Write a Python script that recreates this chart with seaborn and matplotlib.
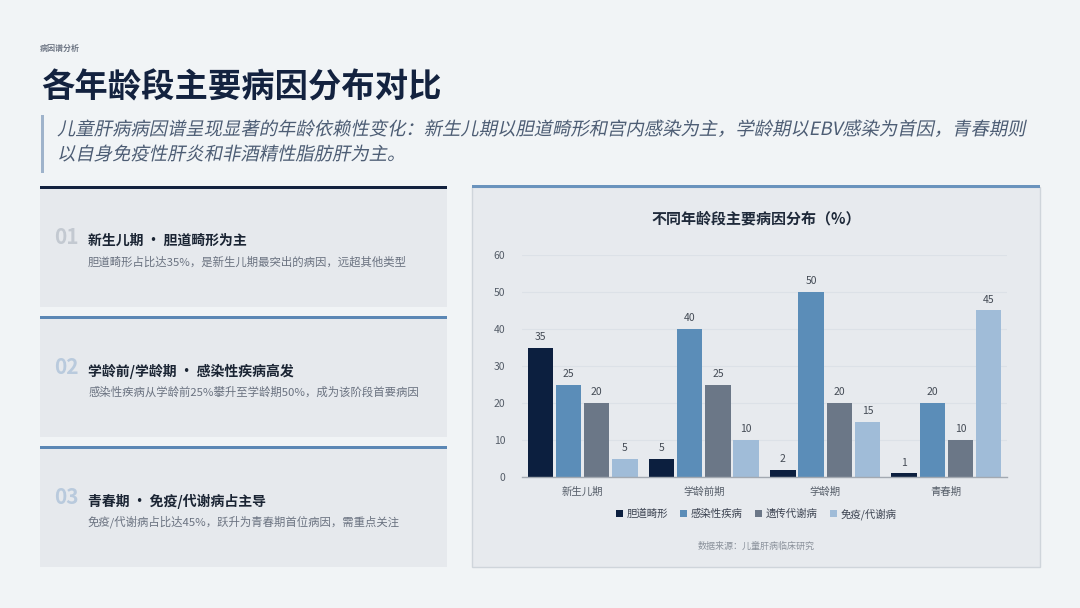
import pandas as pd
import matplotlib
matplotlib.use('Agg')
import matplotlib.pyplot as plt
import seaborn as sns
from matplotlib.patches import Rectangle, PathPatch
from matplotlib.textpath import TextPath
from matplotlib.font_manager import FontProperties
from matplotlib.transforms import Affine2D

# chart data
stages = ['新生儿期', '学龄前期', '学龄期', '青春期']
causes = ['胆道畸形', '感染性疾病', '遗传代谢病', '免疫/代谢病']
biliary = [35, 5, 2, 1]
infection = [25, 40, 50, 20]
genetic = [20, 25, 20, 10]
immune = [5, 10, 15, 45]
colors = ['#0c1f3f', '#5b8db8', '#6b7787', '#a0bcd8']

# text blocks
page_tag = '病因谱分析'
page_title = '各年龄段主要病因分布对比'
subtitle_lines = ['儿童肝病病因谱呈现显著的年龄依赖性变化：新生儿期以胆道畸形和宫内感染为主，学龄期以EBV感染为首因，青春期则',
                  '以自身免疫性肝炎和非酒精性脂肪肝为主。']
card_nums = ['01', '02', '03']
card_titles = ['新生儿期 · 胆道畸形为主', '学龄前/学龄期 · 感染性疾病高发', '青春期 · 免疫/代谢病占主导']
card_descs = ['胆道畸形占比达35%，是新生儿期最突出的病因，远超其他类型',
              '感染性疾病从学龄前25%攀升至学龄期50%，成为该阶段首要病因',
              '免疫/代谢病占比达45%，跃升为青春期首位病因，需重点关注']
chart_title = '不同年龄段主要病因分布（%）'
source = '数据来源：儿童肝病临床研究'

df = pd.DataFrame({
    'stage': stages * 4,
    'cause': [c for c in causes for _ in stages],
    'value': biliary + infection + genetic + immune,
})

sns.set_theme(style='white')
plt.rcParams['font.family'] = ['Noto Sans CJK SC', 'DejaVu Sans']

fig = plt.figure(figsize=(10.8, 6.08), dpi=100)
fig.patch.set_facecolor('#f1f4f6')

# background layer in pixel coords
bg = fig.add_axes([0, 0, 1, 1])
bg.set_xlim(0, 1080)
bg.set_ylim(608, 0)
bg.axis('off')


def slanted_text(x, y, s, size_pt, color):
    # CJK fonts have no italic, so shear the glyph outlines by hand
    fp = FontProperties(family=['Noto Sans CJK SC', 'DejaVu Sans'])
    tp = TextPath((0, 0), s, size=size_pt * 100 / 72, prop=fp)
    tr = Affine2D().skew_deg(12, 0).scale(1, -1).translate(x, y)
    bg.add_patch(PathPatch(tr.transform_path(tp), facecolor=color, lw=0))


bg.text(40, 48, page_tag, fontsize=5.8, color='#6f7785', va='center', fontweight='bold')
bg.text(41, 88, page_title, fontsize=24, fontweight='heavy', color='#13223f', va='center')
bg.add_patch(Rectangle((41, 115), 2.5, 58, color='#9fb3cb', lw=0))
slanted_text(57, 135, subtitle_lines[0], 13.2, '#4d5d74')
slanted_text(57, 160, subtitle_lines[1], 13.2, '#4d5d74')

# left cards
card_tops = [186, 316, 446]
line_cols = ['#13223f', '#5b87b5', '#5b87b5']
num_cols = ['#c3c9d1', '#b9cadd', '#b9cadd']
for i, top in enumerate(card_tops):
    bg.add_patch(Rectangle((40, top), 407, 121, color='#e6e9ed', lw=0))
    bg.add_patch(Rectangle((40, top), 407, 3, color=line_cols[i], lw=0))
    yc = top + 55
    bg.text(54, yc - 3, card_nums[i], fontsize=15, fontweight='bold', color=num_cols[i], va='center')
    bg.text(88, yc, card_titles[i], fontsize=10, fontweight='bold', color='#1a2433', va='center')
    bg.text(88, yc + 21, card_descs[i], fontsize=8.2, color='#6a7280', va='center')

# chart panel
bg.add_patch(Rectangle((472, 187), 568, 380, facecolor='#e7eaee', edgecolor='#cfd5db', lw=1))
bg.add_patch(Rectangle((472, 185), 568, 3, color='#6a93bd', lw=0))
bg.text(756, 218, chart_title, fontsize=10.8, fontweight='bold', color='#1f2a3a', ha='center', va='center')
bg.text(756, 546, source, fontsize=6.5, color='#8a919b', ha='center', va='center')

ax = fig.add_axes([522 / 1080, 1 - 477 / 608, 485 / 1080, 222 / 608])
ax.set_facecolor('none')
sns.barplot(data=df, x='stage', y='value', hue='cause', order=stages, hue_order=causes,
            palette=colors, width=0.93, gap=0.1, ax=ax, saturation=1, linewidth=0, legend=True)
ax.set_ylim(0, 60)
ax.set_yticks(range(0, 61, 10))
ax.yaxis.grid(True, color='#dce1e7', lw=0.8)
ax.set_axisbelow(True)
ax.set_xlabel('')
ax.set_ylabel('')
for s in ['top', 'right', 'left']:
    ax.spines[s].set_visible(False)
ax.spines['bottom'].set_color('#a3a9b1')
ax.spines['bottom'].set_linewidth(1)
ax.tick_params(axis='both', length=0, labelsize=7.5, colors='#555d68')
ax.tick_params(axis='x', pad=7)
ax.tick_params(axis='y', pad=12)
for cont in ax.containers:
    ax.bar_label(cont, fmt='%d', padding=4, fontsize=7.5, color='#444b55')

ax.legend_.remove()
handles, labels = ax.get_legend_handles_labels()
fig.legend(handles, labels, loc='center', bbox_to_anchor=(756 / 1080, 1 - 514 / 608), ncol=4,
           frameon=False, fontsize=7.5, handlelength=0.7, handleheight=0.7, handletextpad=0.3,
           columnspacing=1.2, labelcolor='#3b4250')

fig.savefig('out.png', dpi=100, facecolor=fig.get_facecolor())
